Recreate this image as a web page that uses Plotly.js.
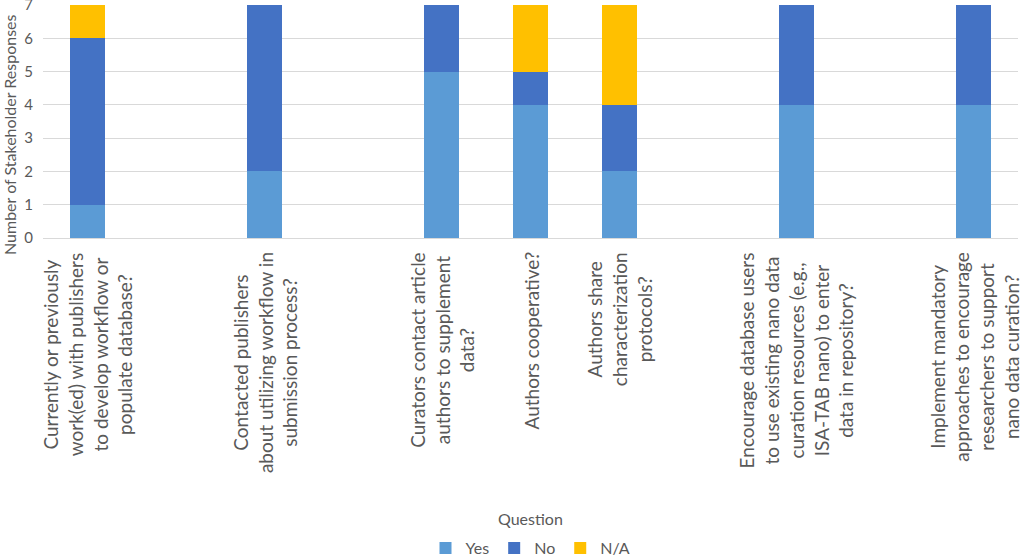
<!DOCTYPE html>
<html>
<head>
<meta charset="utf-8">
<script src="https://cdn.plot.ly/plotly-3.0.1.min.js"></script>
<style>html,body{margin:0;padding:0;background:#fff;}#chart{width:1024px;height:558px;}</style>
</head>
<body>
<div id="chart"></div>
<script>
// Category slots (blank slots are empty categories in the source chart)
const slots = ['Q1', 'blank1', 'Q2', 'blank2', 'Q3', 'Q4', 'Q5', 'blank3', 'Q6', 'blank4', 'Q7'];
const questionIds = ['Q1', 'Q2', 'Q3', 'Q4', 'Q5', 'Q6', 'Q7'];
const questionLabels = [
  'Currently or previously<br>work(ed) with publishers<br>to develop workflow or<br>populate database?',
  'Contacted publishers<br>about utilizing workflow in<br>submission process?',
  'Curators contact article<br>authors to supplement<br>data?',
  'Authors cooperative?',
  'Authors share<br>characterization<br>protocols?',
  'Encourage database users<br>to use existing nano data<br>curation resources (e.g.,<br>ISA-TAB nano) to enter<br>data in repository?',
  'Implement mandatory<br>approaches to encourage<br>researchers to support<br>nano data curation?'
];
const yesValues = [1, 2, 5, 4, 2, 4, 4];
const noValues  = [5, 5, 2, 1, 2, 3, 3];
const naValues  = [1, 0, 0, 2, 3, 0, 0];
const yTicks = [0, 1, 2, 3, 4, 5, 6, 7];

const FONT = 'Lato, "Open Sans", sans-serif';
const GRAY = '#595959';

const traces = [
  {type: 'bar', name: 'Yes', x: questionIds, y: yesValues, marker: {color: '#5B9BD5', line: {width: 0}}},
  {type: 'bar', name: 'No', x: questionIds, y: noValues, marker: {color: '#4472C4', line: {width: 0}}},
  {type: 'bar', name: 'N/A', x: questionIds, y: naValues, marker: {color: '#FFC000', line: {width: 0}}}
];

const PLOT_BOTTOM = 238, PLOT_H = 233;
const annotations = questionIds.map((id, i) => ({
  x: id, xref: 'x', y: 0, yref: 'paper',
  text: questionLabels[i], textangle: -90, align: 'center',
  xanchor: 'center', yanchor: 'top', yshift: -12, showarrow: false,
  font: {family: FONT, size: 19, color: GRAY}
}));
annotations.push({
  x: 0, xref: 'paper', xanchor: 'center', xshift: -34,
  y: (PLOT_BOTTOM - 135) / PLOT_H, yref: 'paper', yanchor: 'middle',
  text: 'Number of Stakeholder Responses', textangle: -90, showarrow: false,
  font: {family: FONT, size: 16, color: GRAY}
});
annotations.push({
  x: 0.5, xref: 'paper', xanchor: 'center',
  y: -(519 - PLOT_BOTTOM) / PLOT_H, yref: 'paper', yanchor: 'middle', showarrow: false,
  text: 'Question', font: {family: FONT, size: 16, color: GRAY}
});

const layout = {
  width: 1024, height: 558,
  margin: {l: 43, r: 6, t: 5, b: 320, pad: 0, autoexpand: false},
  paper_bgcolor: '#ffffff', plot_bgcolor: '#ffffff',
  barmode: 'stack', bargap: 0.605,
  font: {family: FONT, color: GRAY},
  xaxis: {
    type: 'category', categoryorder: 'array', categoryarray: slots,
    range: [-0.5, slots.length - 0.5],
    showticklabels: false, showgrid: false, ticks: '',
    showline: true, linecolor: '#D9D9D9', linewidth: 1, zeroline: false
  },
  yaxis: {
    range: [0, 7], tickvals: yTicks, ticktext: yTicks.map(String),
    showgrid: true, gridcolor: '#D9D9D9', gridwidth: 1, zeroline: false,
    showline: false, ticks: '', ticklabelstandoff: 9, ticklabeloverflow: 'allow',
    tickfont: {family: FONT, size: 15, color: GRAY}
  },
  showlegend: true,
  legend: {
    orientation: 'h', x: 0.5, xanchor: 'center',
    y: -(548 - PLOT_BOTTOM) / PLOT_H, yanchor: 'middle',
    font: {family: FONT, size: 16, color: GRAY},
    itemwidth: 30, tracegroupgap: 0, traceorder: 'normal'
  },
  annotations: annotations
};

Plotly.newPlot('chart', traces, layout, {displayModeBar: false, staticPlot: true});
</script>
</body>
</html>
